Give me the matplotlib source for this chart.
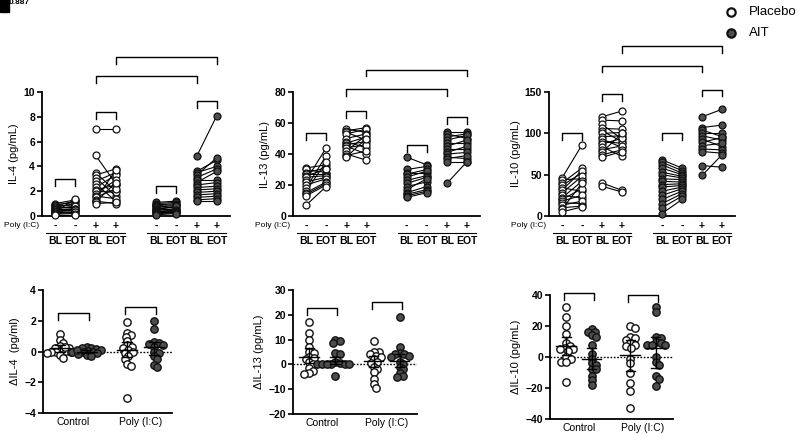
import matplotlib
matplotlib.use('Agg')
import matplotlib.pyplot as plt
from matplotlib.lines import Line2D
from matplotlib.patches import Rectangle
import numpy as np

plt.rcParams['font.family'] = ['Liberation Sans', 'DejaVu Sans']

# ---------------- data ----------------
positions = [0, 1, 2, 3, 5, 6, 7, 8]
poly_signs = ['-', '-', '+', '+', '-', '-', '+', '+']
time_labels = ['BL', 'EOT', 'BL', 'EOT', 'BL', 'EOT', 'BL', 'EOT']

# IL-4 (pg/mL): placebo control, placebo poly, AIT control, AIT poly
il4_pc_bl = [1.0, 0.9, 0.85, 0.8, 0.7, 0.65, 0.6, 0.5, 0.45, 0.4, 0.35, 0.3, 0.25, 0.2, 0.15, 0.1]
il4_pc_eot = [1.3, 1.1, 1.2, 0.9, 1.0, 0.7, 0.8, 0.6, 0.55, 0.5, 0.45, 1.4, 0.35, 0.3, 0.2, 0.1]
il4_pp_bl = [7.0, 4.9, 3.5, 3.3, 3.1, 2.8, 2.6, 2.3, 2.1, 2.0, 1.8, 1.6, 1.5, 1.3, 1.2, 1.1, 1.0]
il4_pp_eot = [7.0, 2.6, 2.0, 3.8, 1.6, 3.5, 1.2, 3.3, 2.5, 1.9, 2.9, 1.4, 2.2, 3.7, 1.0, 2.7, 1.1]
il4_ac_bl = [1.1, 1.0, 0.9, 0.85, 0.8, 0.7, 0.6, 0.55, 0.5, 0.4, 0.35, 0.3, 0.25, 0.2, 0.1]
il4_ac_eot = [1.2, 1.1, 1.0, 0.9, 0.6, 0.85, 0.7, 0.5, 0.8, 0.45, 0.4, 0.3, 0.35, 0.25, 0.2]
il4_ap_bl = [4.8, 3.6, 3.5, 3.3, 3.1, 2.9, 2.7, 2.5, 2.3, 2.1, 1.9, 1.7, 1.5, 1.3, 1.2]
il4_ap_eot = [8.1, 4.5, 4.0, 4.7, 3.8, 2.9, 3.6, 2.7, 2.4, 2.2, 2.0, 1.8, 1.6, 1.4, 1.2]

# IL-13 (pg/mL)
il13_pc_bl = [31, 30, 28, 27, 26, 25, 23, 22, 20, 18, 16, 15, 14, 13, 7]
il13_pc_eot = [33, 28, 31, 27, 30, 26, 44, 25, 24, 39, 35, 22, 21, 20, 19]
il13_pp_bl = [56, 55, 54, 53, 50, 48, 47, 46, 45, 44, 42, 40, 39, 38]
il13_pp_eot = [54, 57, 49, 56, 53, 44, 51, 48, 40, 46, 52, 36, 42, 50]
il13_ac_bl = [38, 30, 28, 27, 25, 23, 21, 19, 17, 15, 14, 13, 12]
il13_ac_eot = [33, 32, 28, 30, 29, 26, 25, 22, 24, 19, 17, 16, 15]
il13_ap_bl = [54, 53, 51, 49, 47, 45, 43, 41, 40, 38, 37, 35, 21]
il13_ap_eot = [54, 50, 53, 52, 47, 49, 43, 45, 41, 37, 39, 35, 35]

# IL-10 (pg/mL)
il10_pc_bl = [46, 44, 40, 37, 34, 31, 28, 25, 22, 20, 18, 16, 13, 10, 8, 5]
il10_pc_eot = [86, 45, 58, 52, 30, 55, 48, 22, 42, 33, 25, 15, 18, 12, 40, 11]
il10_pp_bl = [120, 116, 111, 106, 103, 100, 96, 93, 90, 87, 84, 80, 77, 74, 71, 40, 36]
il10_pp_eot = [127, 115, 93, 105, 90, 101, 97, 83, 88, 94, 72, 85, 100, 80, 78, 31, 29]
il10_ac_bl = [68, 65, 62, 58, 53, 50, 45, 42, 38, 35, 30, 25, 20, 15, 10, 3]
il10_ac_eot = [58, 55, 52, 50, 48, 46, 44, 41, 39, 37, 35, 33, 30, 27, 24, 20]
il10_ap_bl = [120, 107, 104, 100, 97, 93, 89, 85, 81, 78, 61, 49]
il10_ap_eot = [129, 110, 96, 100, 92, 84, 95, 88, 80, 76, 59, 74]

# Delta values: placebo control, AIT control, placebo poly, AIT poly
d4_pc = [1.15, 0.75, 0.55, 0.35, 0.25, 0.2, 0.1, 0.05, 0.0, 0.0, -0.05, -0.1, -0.2, -0.4, 0.3]
d4_ac = [0.3, 0.25, 0.2, 0.15, 0.1, 0.05, 0.0, 0.0, -0.05, -0.1, -0.15, -0.2, -0.3, 0.1]
d4_pp = [1.9, 1.2, 1.05, 0.95, 0.7, 0.4, 0.3, 0.2, 0.1, 0.0, -0.1, -0.3, -0.5, -0.8, -0.95, -3.05]
d4_ap = [2.0, 1.45, 0.6, 0.55, 0.5, 0.45, 0.3, 0.0, -0.1, -0.3, -0.5, -0.85, -1.0]
d4_err = [(0.2, 0.0, 0.45), (0.0, -0.1, 0.1), (0.1, -0.35, 0.6), (0.3, -0.2, 0.65)]

d13_pc = [17, 12.5, 10, 7, 5, 4.5, 3, 2.5, 2, 1, 0, -1.5, -2.5, -3.5, -4]
d13_ac = [10, 9.5, 8.5, 4.5, 4, 1, 0.5, 0, 0, 0, 0, 0, 0, -4.5]
d13_pp = [9.5, 5, 5, 4, 3.5, 3, 2, 1, 0.5, -1, -2, -3, -6, -8, -9.5]
d13_ap = [19, 7, 4.5, 4, 4, 3.5, 3, 1, 0, -1, -2, -3.5, -4.5, -5]
d13_err = [(3, 0.5, 6.5), (1.5, 0, 3), (1.5, -1, 3.5), (1.5, -1, 4)]

d10_pc = [32, 26, 20, 15, 9, 7, 6, 5, 5, 4, 0, -1, -3, -3, -16]
d10_ac = [18, 16, 16, 14, 13, 8, 2, -1, -4, -5, -8, -8, -12, -15, -18]
d10_pp = [20, 19, 13, 12, 11, 9, 8, 7, 6, -1, -4, -10, -17, -22, -33]
d10_ap = [32, 29, 13, 12, 10, 9, 8, 8, 8, 0, -3, -5, -12, -14, -19]
d10_err = [(7, 1, 13), (-1, -8, 6), (1, -9, 11), (6, -7, 13)]

cat_labels = ['Control', 'Poly (I:C)']
legend_labels = ['Placebo', 'AIT']

# ---------------- style ----------------
W, H = 800, 434
FILL = '#4d4d4d'
EDGE = '#111111'
fig = plt.figure(figsize=(8, 4.34), dpi=100)


def add_ax(x0, x1, ytop, ybot):
    return fig.add_axes([x0 / W, (H - ybot) / H, (x1 - x0) / W, (ybot - ytop) / H])


def style_axes(ax):
    for s in ('top', 'right'):
        ax.spines[s].set_visible(False)
    for s in ('left', 'bottom'):
        ax.spines[s].set_linewidth(1.3)
        ax.spines[s].set_color('black')
    ax.tick_params(axis='y', length=3.5, width=1.2, pad=1.5, labelsize=7.5)
    ax.tick_params(axis='x', length=0)
    for t in ax.get_yticklabels():
        t.set_fontweight('bold')
    ax.patch.set_alpha(0)


def bracket(ax, xa, xb, y, drop):
    ax.plot([xa, xa, xb, xb], [y - drop, y, y, y - drop], color='black', lw=1.0,
            clip_on=False, zorder=5)


def top_panel(ax, groups, ymax, yticks, ylabel, small_y, big_y):
    ax.set_xlim(-0.65, 8.65)
    ax.set_ylim(0, ymax)
    ax.set_yticks(yticks)
    ax.set_xticks([])
    style_axes(ax)
    ax.set_ylabel(ylabel, fontsize=8, labelpad=3)
    for gi, (bl, eot) in enumerate(groups):
        x0, x1 = positions[2 * gi], positions[2 * gi + 1]
        filled = gi >= 2
        for a, b in zip(bl, eot):
            ax.plot([x0, x1], [a, b], color='black', lw=0.8, zorder=2, clip_on=False)
        fc = FILL if filled else 'white'
        ax.plot([x0] * len(bl), bl, 'o', ms=5, mfc=fc, mec=EDGE, mew=0.9,
                zorder=3, clip_on=False)
        ax.plot([x1] * len(eot), eot, 'o', ms=5, mfc=fc, mec=EDGE, mew=0.9,
                zorder=3, clip_on=False)
    drop = 0.056 * ymax
    for gi, y in enumerate(small_y):
        bracket(ax, positions[2 * gi], positions[2 * gi + 1], y, drop)
    bracket(ax, positions[2], positions[6], big_y[0], drop)
    bracket(ax, positions[3], positions[7], big_y[1], drop)
    tr = ax.get_xaxis_transform()
    for p, s, t in zip(positions, poly_signs, time_labels):
        ax.text(p, -0.08, s, transform=tr, ha='center', va='center', fontsize=7.5,
                fontweight='bold')
        ax.text(p, -0.2, t, transform=tr, ha='center', va='center', fontsize=7.5,
                fontweight='bold')
    ax.text(-0.8, -0.08, 'Poly (I:C)', transform=tr, ha='right', va='center',
            fontsize=6)
    for xa, xb in ((-0.45, 3.45), (4.55, 8.45)):
        ax.plot([xa, xb], [-0.135, -0.135], transform=tr, color='black', lw=0.8,
                clip_on=False)


def swarm_offsets(values, ppy, ppx, min_dist=4.0, step=1.2):
    placed = []
    offs = np.zeros(len(values))
    order = np.argsort(values)[::-1]
    cands = [0.0]
    for j in range(1, 40):
        cands += [j * step, -j * step]
    for i in order:
        y = values[i] * ppy
        for c in cands:
            if all((c - px) ** 2 + (y - py) ** 2 >= min_dist ** 2 for px, py in placed):
                break
        placed.append((c, y))
        offs[i] = c / ppx
    return offs


def bottom_panel(ax, cols, errs, ylim, yticks, ylabel, br_y, box_px):
    ax.set_xlim(0.55, 2.47)
    ax.set_ylim(*ylim)
    ax.set_yticks(yticks)
    ax.set_xticks([1, 2])
    ax.set_xticklabels(cat_labels, fontsize=7.5)
    style_axes(ax)
    ax.tick_params(axis='x', pad=3)
    ax.set_ylabel(ylabel, fontsize=8, labelpad=3)
    ax.axhline(0, color='black', lw=1.0, ls=(0, (1.2, 1.2)), zorder=1)
    wpx, hpx = box_px
    ppx = wpx / (2.47 - 0.55)
    ppy = hpx / (ylim[1] - ylim[0])
    xs = [0.8, 1.2, 1.8, 2.2]
    for k, (vals, x) in enumerate(zip(cols, xs)):
        filled = k % 2 == 1
        v = np.asarray(vals, dtype=float)
        off = swarm_offsets(v, ppy, ppx)
        fc = FILL if filled else 'white'
        ax.plot(x + off, v, 'o', ms=5.3, mfc=fc, mec=EDGE, mew=1.0, zorder=3,
                clip_on=False)
        c, lo, hi = errs[k]
        ax.plot([x - 0.15, x + 0.15], [c, c], color='black', lw=1.0, zorder=4)
        ax.plot([x, x], [lo, hi], color='black', lw=1.0, zorder=4)
        ax.plot([x - 0.07, x + 0.07], [lo, lo], color='black', lw=1.0, zorder=4)
        ax.plot([x - 0.07, x + 0.07], [hi, hi], color='black', lw=1.0, zorder=4)
    drop = 0.056 * (ylim[1] - ylim[0])
    bracket(ax, 0.77, 1.23, br_y[0], drop)
    bracket(ax, 1.77, 2.23, br_y[1], drop)


# ---------------- top row ----------------
ax1 = add_ax(42, 230, 92, 216)
top_panel(ax1, [(il4_pc_bl, il4_pc_eot), (il4_pp_bl, il4_pp_eot),
                (il4_ac_bl, il4_ac_eot), (il4_ap_bl, il4_ap_eot)],
          10, [0, 2, 4, 6, 8, 10], 'IL-4 (pg/mL)', [3.0, 8.4, 2.4, 9.3], [11.3, 12.8])

ax2 = add_ax(293, 480, 92, 216)
top_panel(ax2, [(il13_pc_bl, il13_pc_eot), (il13_pp_bl, il13_pp_eot),
                (il13_ac_bl, il13_ac_eot), (il13_ap_bl, il13_ap_eot)],
          80, [0, 20, 40, 60, 80], 'IL-13 (pg/mL)', [53.5, 67.5, 46, 64], [82, 94.5])

ax3 = add_ax(549, 735, 92, 216)
top_panel(ax3, [(il10_pc_bl, il10_pc_eot), (il10_pp_bl, il10_pp_eot),
                (il10_ac_bl, il10_ac_eot), (il10_ap_bl, il10_ap_eot)],
          150, [0, 50, 100, 150], 'IL-10 (pg/mL)', [100, 147, 100, 153], [182, 206])

# ---------------- bottom row ----------------
ax4 = add_ax(43, 172, 290, 413)
bottom_panel(ax4, [d4_pc, d4_ac, d4_pp, d4_ap], d4_err, (-4, 4), [-4, -2, 0, 2, 4],
             '\u0394IL-4  (pg/ml)', [2.5, 2.9], (129, 123))

ax5 = add_ax(293, 417, 290, 414)
bottom_panel(ax5, [d13_pc, d13_ac, d13_pp, d13_ap], d13_err, (-20, 30),
             [-20, -10, 0, 10, 20, 30], '\u0394IL-13 (pg/mL)', [22.6, 25], (124, 124))

ax6 = add_ax(550, 673, 295, 419)
bottom_panel(ax6, [d10_pc, d10_ac, d10_pp, d10_ap], d10_err, (-40, 40),
             [-40, -20, 0, 20, 40], '\u0394IL-10 (pg/mL)', [41, 40], (123, 124))

# ---------------- legend ----------------
for lab, yy, filled in ((legend_labels[0], 12, False), (legend_labels[1], 33, True)):
    fig.add_artist(Line2D([731 / W], [1 - yy / H], marker='o', ms=6,
                          mfc=FILL if filled else 'white', mec=EDGE, mew=1.6,
                          transform=fig.transFigure, ls='none'))
    fig.text(749 / W, 1 - yy / H, lab, fontsize=9.5, va='center', ha='left')

# ---------------- top-left artefact ----------------
fig.add_artist(Rectangle((0, 1 - 12 / H), 9 / W, 12 / H, transform=fig.transFigure,
                         color='black'))
fig.text(9 / W, 1 - 3 / H, '0.887', fontsize=6, fontweight='bold', va='center',
         ha='left')

fig.savefig('out.png', dpi=100)
